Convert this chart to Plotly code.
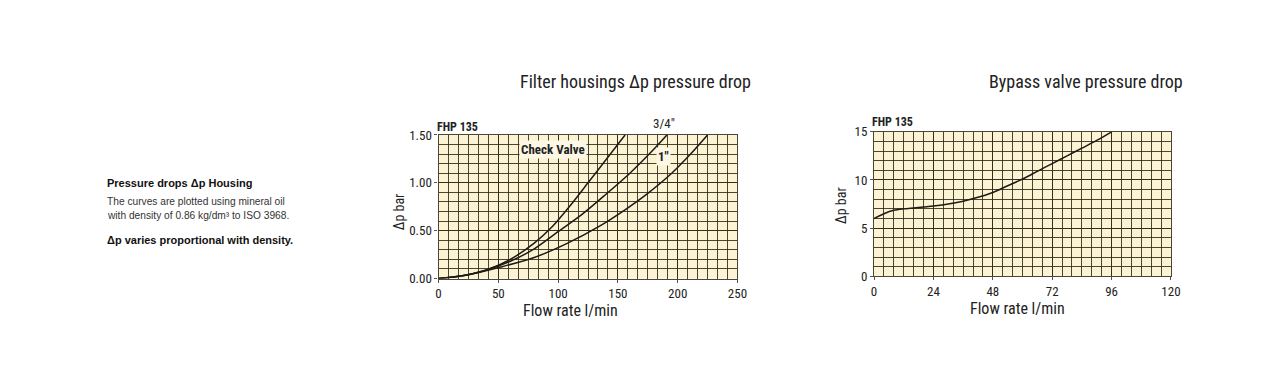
import plotly.graph_objects as go

# ---------------- data ----------------
check_x = [0, 20, 40, 60, 80, 95, 110, 125, 140, 156]
check_y = [0, 0.03, 0.09, 0.20, 0.37, 0.54, 0.76, 1.00, 1.24, 1.50]

q34_x = [0, 20, 40, 60, 80, 100, 120, 140, 160, 180, 191]
q34_y = [0, 0.03, 0.09, 0.18, 0.31, 0.49, 0.67, 0.88, 1.10, 1.35, 1.50]

one_x = [0, 25, 52, 80, 108, 135, 155, 175, 195, 210, 225]
one_y = [0, 0.04, 0.12, 0.22, 0.37, 0.55, 0.71, 0.89, 1.10, 1.29, 1.50]

bypass_x = [0, 4, 8, 12, 16, 20, 24, 30, 36, 42, 48, 54, 60, 66, 72, 78, 84, 90, 96]
bypass_y = [6.0, 6.5, 6.85, 7.0, 7.1, 7.2, 7.3, 7.5, 7.8, 8.2, 8.7, 9.4, 10.1, 10.9, 11.7, 12.5, 13.3, 14.1, 15.0]

left_xticks = [0, 50, 100, 150, 200, 250]
left_yticks = [0, 0.5, 1.0, 1.5]
left_ylabels = ["0.00", "0.50", "1.00", "1.50"]
right_xticks = [0, 24, 48, 72, 96, 120]
right_yticks = [0, 5, 10, 15]

# ---------------- style ----------------
# page body has 8px margins, so the figure is 1266x351 placed at (8, 8)
OFF = 8
W, H = 1282 - 2 * OFF, 367 - 2 * OFF
NARROW = "Liberation Sans Narrow, Arial Narrow, Roboto Condensed, sans-serif"
SANS = "Liberation Sans, Arial, sans-serif"
GRID = "rgba(50,43,26,0.88)"
BG = "#fbf3d3"
LINE = "#1e1a14"

def px(x):
    return (x - OFF) / W

def py(y):
    return 1 - (y - OFF) / H

fig = go.Figure()

for xs, ys in [(check_x, check_y), (q34_x, q34_y), (one_x, one_y)]:
    fig.add_trace(go.Scatter(x=xs, y=ys, mode="lines", line=dict(color=LINE, width=1.5, shape="spline", smoothing=0.8),
                             xaxis="x", yaxis="y", showlegend=False, hoverinfo="skip"))
fig.add_trace(go.Scatter(x=bypass_x, y=bypass_y, mode="lines", line=dict(color=LINE, width=1.5, shape="spline", smoothing=0.8),
                         xaxis="x2", yaxis="y2", showlegend=False, hoverinfo="skip"))

tickfont = dict(family=NARROW, size=13, color="#222")
axcommon = dict(showgrid=True, gridcolor=GRID, gridwidth=1.2, zeroline=False,
                showline=True, linecolor=GRID, linewidth=1.2, mirror=True,
                ticks="outside", ticklen=3, tickcolor="#555", tickfont=tickfont, fixedrange=True)

fig.update_layout(
    width=W, height=H, margin=dict(l=0, r=0, t=0, b=0), autosize=False,
    paper_bgcolor="white", plot_bgcolor=BG,
    xaxis=dict(domain=[px(440), px(742)], range=[0, 250], tickvals=left_xticks,
               minor=dict(dtick=250 / 30, showgrid=True, gridcolor=GRID, gridwidth=1.2, ticks=""),
               anchor="y", **axcommon),
    yaxis=dict(domain=[py(283.3), py(133.3)], range=[0, 1.5], tickvals=left_yticks, ticktext=left_ylabels,
               minor=dict(dtick=0.1, showgrid=True, gridcolor=GRID, gridwidth=1.2, ticks=""),
               anchor="x", **axcommon),
    xaxis2=dict(domain=[px(880), px(1180)], range=[0, 120], tickvals=right_xticks,
                minor=dict(dtick=4, showgrid=True, gridcolor=GRID, gridwidth=1.2, ticks=""),
                anchor="y2", **axcommon),
    yaxis2=dict(domain=[py(281), py(130)], range=[0, 15], tickvals=right_yticks,
                minor=dict(dtick=1, showgrid=True, gridcolor=GRID, gridwidth=1.2, ticks=""),
                anchor="x2", **axcommon),
)

ann = []
def text(x, y, s, size=12, family=NARROW, color="#222", xanchor="center", yanchor="middle", angle=0, bg=None):
    d = dict(x=px(x), y=py(y), xref="paper", yref="paper", text=s, showarrow=False,
             font=dict(family=family, size=size, color=color), xanchor=xanchor, yanchor=yanchor, textangle=angle,
             borderpad=0)
    if bg:
        d["bgcolor"] = bg
        d["borderpad"] = 1
    ann.append(d)

# titles
text(639, 77, "Filter housings Δp pressure drop", size=18, color="#222")
text(1094, 77, "Bypass valve pressure drop", size=18, color="#222")
# FHP labels
text(437, 125, "<b>FHP 135</b>", size=12, xanchor="left")
text(877, 120, "<b>FHP 135</b>", size=12, xanchor="left")
# curve labels
text(668, 121, "3/4\"", size=13)
text(667, 156, "<b>1\"</b>", size=13, bg="#fdf8e6")
text(556, 149, "<b>Check Valve</b>", size=13, bg="#fdf8e6")
# axis titles
text(573, 317, "Flow rate l/min", size=16)
text(1025, 315, "Flow rate l/min", size=16)
text(400, 213, "Δp bar", size=14, angle=-90)
text(847, 207, "Δp bar", size=14, angle=-90)
# side text
text(104, 183, "<b>Pressure drops Δp Housing</b>", size=11, family=SANS, xanchor="left", color="#111")
text(104, 203, "The curves are plotted using mineral oil", size=10.2, family=SANS, xanchor="left", color="#333")
text(104, 217, "with density of 0.86 kg/dm³ to ISO 3968.", size=10.2, family=SANS, xanchor="left", color="#333")
text(104, 243, "<b>Δp varies proportional with density.</b>", size=11, family=SANS, xanchor="left", color="#111")

fig.update_layout(annotations=ann)
fig.write_html("out.html")
